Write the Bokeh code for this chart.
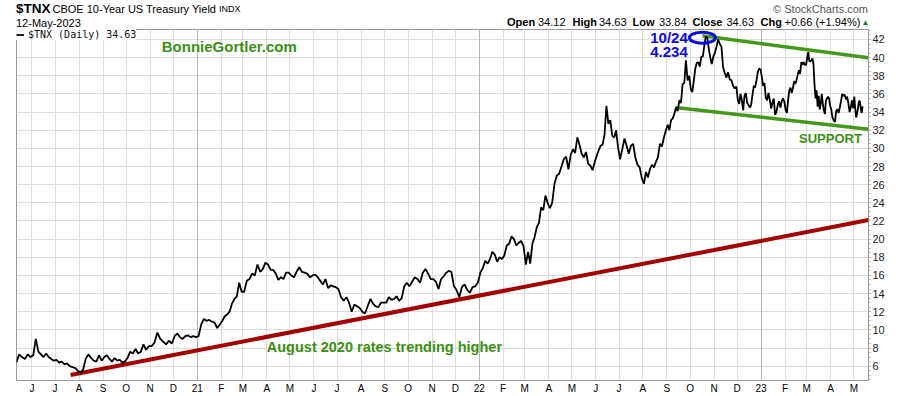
import numpy as np
import pandas as pd
from bokeh.plotting import figure
from bokeh.layouts import column
from bokeh.models import FixedTicker, Label, Grid, Range1d, Div
from bokeh.embed import file_html
from bokeh.resources import INLINE

# ---------------- data (10-Year yield x10) ----------------
y2020 = [
    [6.4, 7.3, 7.0, 6.8, 7.3, 7.0],                      # May (from 12th)
    [7.2, 9.0, 7.6, 7.3, 7.0, 7.4, 7.0, 6.8, 6.6],       # Jun
    [6.7, 6.4, 6.5, 6.2, 6.3, 6.0, 5.9, 5.8, 5.5],       # Jul
    [5.3, 5.6, 6.8, 7.3, 6.9, 6.6, 6.5, 7.2, 6.6],       # Aug
    [7.0, 7.2, 6.8, 6.5, 6.9, 6.6, 6.7, 6.4, 6.5],       # Sep
    [6.9, 7.6, 7.4, 7.9, 7.4, 7.6, 8.4, 7.8, 8.2],       # Oct
    [8.2, 8.6, 9.7, 9.0, 8.7, 8.4, 8.8, 8.5],            # Nov
    [9.3, 9.6, 9.2, 9.0, 9.3, 9.4, 9.2, 9.3, 9.2],       # Dec
]
y2021 = [
    [9.3, 10.6, 11.2, 11.0, 11.1, 10.9, 10.8, 10.2, 10.6],
    [11.0, 11.5, 11.7, 12.0, 12.9, 13.4, 13.7, 15.2, 14.2],
    [14.2, 15.4, 15.6, 16.2, 16.0, 17.2, 16.4, 16.7, 17.4],
    [17.2, 16.6, 16.6, 16.2, 15.5, 15.8, 15.6, 16.3, 16.3],
    [16.0, 15.8, 16.4, 16.9, 16.4, 16.3, 16.2, 15.8, 16.0],
    [16.1, 15.8, 15.4, 15.0, 15.6, 14.6, 14.9, 14.8, 14.7],
    [14.5, 13.6, 13.2, 13.6, 13.0, 12.0, 12.8, 12.6, 12.4],
    [12.0, 11.8, 12.6, 13.4, 12.9, 12.6, 12.5, 13.0, 13.0],
    [13.0, 13.6, 13.3, 13.4, 13.7, 13.2, 13.5, 14.8, 15.2],
    [14.8, 15.3, 15.8, 15.6, 15.2, 16.3, 16.7, 16.2, 15.6],
    [15.6, 15.3, 14.5, 15.6, 15.9, 16.3, 16.5, 16.4, 14.8],
    [14.4, 13.6, 14.7, 15.0, 14.4, 14.1, 14.7, 14.8, 15.2],
]
y2022 = [
    [16.3, 16.8, 17.6, 17.3, 17.8, 18.6, 18.3, 17.5, 18.0, 17.8],
    [18.2, 19.3, 19.5, 20.3, 20.0, 19.3, 19.6, 19.8, 19.2],
    [17.2, 18.6, 17.3, 19.5, 20.2, 21.3, 21.8, 23.5, 23.2, 24.8, 24.0],
    [23.4, 24.0, 26.1, 27.0, 27.2, 28.0, 28.8, 29.1, 27.7, 29.3],
    [29.9, 29.5, 31.2, 30.4, 29.4, 29.0, 29.6, 28.3, 28.1, 27.6, 28.5],
    [29.2, 29.8, 30.3, 30.4, 31.5, 34.7, 32.7, 33.1, 31.4, 31.2, 32.0, 30.1],
    [28.8, 29.9, 31.1, 30.3, 29.4, 30.3, 30.5, 29.0, 28.2, 27.9, 26.7],
    [26.1, 27.4, 26.8, 27.7, 28.2, 27.9, 28.5, 29.0, 30.5, 30.2, 31.2, 32.0],
    [32.6, 32.0, 33.1, 33.3, 33.8, 34.5, 34.1, 35.3, 35.0, 37.1, 37.2, 39.7, 37.5, 38.0],
    [36.5, 36.2, 37.5, 38.8, 39.4, 39.5, 39.0, 40.1, 40.1, 41.3, 42.3, 42.2, 41.0, 40.0, 39.3, 40.1],
    [40.5, 41.2, 42.0, 41.5, 41.2, 38.9, 38.3, 37.8, 38.4, 37.6, 37.5, 36.9, 36.6, 36.8],
    [35.3, 34.9, 36.0, 35.3, 34.2, 35.8, 36.1, 35.0, 34.8, 34.5, 34.8, 35.9, 36.9, 36.7, 37.5, 38.4, 38.8, 38.7],
]
y2023 = [
    [37.9, 36.9, 37.2, 35.6, 35.3, 36.1, 35.4, 34.4, 35.0, 35.5, 33.7, 34.0, 34.8, 35.2, 34.5, 35.2, 35.5, 35.1],
    [34.2, 33.9, 35.3, 36.4, 36.7, 36.1, 36.6, 37.4, 37.1, 37.5, 38.1, 38.6, 38.2, 39.5, 39.2, 39.5, 39.2, 39.2],
    [40.0, 40.6, 39.6, 39.6, 39.7, 39.9, 39.3, 37.0, 35.5, 36.4, 34.6, 35.8, 34.3, 34.9, 36.0, 34.9, 34.2, 33.8,
     35.3, 35.5, 35.7, 35.5, 34.7],
    [34.3, 33.4, 33.1, 32.9, 34.1, 34.3, 33.9, 34.5, 35.2, 36.0, 35.8, 35.9, 35.4, 35.7, 35.0, 34.0, 34.5, 35.3, 34.4],
    [35.7, 34.4, 33.4, 33.8, 34.4, 35.2, 35.2, 34.4, 33.9, 34.63],
]

# trend lines drawn on the chart
red_dates = ["2020-07-21", "2023-05-20"]
red_vals = [5.03, 22.1]
upper_dates = ["2022-10-17", "2023-05-20"]
upper_vals = [42.4, 39.98]
lower_dates = ["2022-09-12", "2023-05-20"]
lower_vals = [34.5, 32.12]

month_letters = ["J", "F", "M", "A", "M", "J", "J", "A", "S", "O", "N", "D"]
year_labels = ["21", "22", "23"]
y_ticks = list(range(6, 43, 2))

# header texts
quote_fields = [("Open", "34.12"), ("High", "34.63"), ("Low", "33.84"), ("Close", "34.63"),
                ("Chg", "+0.66 (+1.94%)")]

# ---------------- build date series ----------------
dates, vals = [], []


def add(year, first_month, month_lists, first_start_day=1, last_end_day=None):
    for k, mv in enumerate(month_lists):
        m = first_month + k
        start = pd.Timestamp(year, m, first_start_day if k == 0 else 1)
        if last_end_day is not None and k == len(month_lists) - 1:
            stop = pd.Timestamp(year, m, last_end_day)
        else:
            stop = pd.Timestamp(year, m, 1) + pd.offsets.MonthBegin(1)
        step = (stop - start) / len(mv)
        for i, v in enumerate(mv):
            dates.append(start + step * (i + 0.5))
            vals.append(v)


add(2020, 5, y2020, first_start_day=10)
add(2021, 1, y2021)
add(2022, 1, y2022)
add(2023, 1, y2023, last_end_day=13)


def ms(d):
    return pd.Timestamp(d).value / 1e6


FONT = "Liberation Sans"
GREEN = "#3b8f12"
GREEN_LINE = "#45981c"
RED = "#a30000"
BLUE = "#0a0ae6"
HEADER_H = 28
Y0, Y1 = 4.42, 43.1

# ---------------- header (HTML text) ----------------
quote_x = [507, 538, 572.5, 599, 632.5, 659, 692.5, 726.5, 760.5, 784.5]
spans = []


def span(left, top, size, text, bold=False, color="#000", right=None):
    pos = f"left:{left}px;" if right is None else f"right:{right}px;"
    spans.append(f'<span style="position:absolute;{pos}top:{top}px;font-size:{size}px;'
                 f'line-height:1;white-space:nowrap;font-weight:{"bold" if bold else "normal"};'
                 f'color:{color}">{text}</span>')


span(16, 2, 13.5, "$TNX", bold=True)
span(52.5, 3.7, 11, "CBOE 10-Year US Treasury Yield")
span(219, 5.2, 9, "INDX")
span(16, 17.7, 11, "12-May-2023")
span(0, 3.7, 11, "&copy; StockCharts.com", color="#555", right=32)
k = 0
for lab, num in quote_fields:
    span(quote_x[k], 17.2, 11, lab, bold=True)
    span(quote_x[k + 1], 17.2, 11, num)
    k += 2
span(861.5, 18.5, 8, "&#9650;", color="#2e7d32")
header = Div(text=f'<div style="position:relative;width:900px;height:{HEADER_H}px;'
                  f'font-family:\'Liberation Sans\';">' + "".join(spans) + "</div>",
             width=900, height=HEADER_H, margin=0)

# ---------------- chart ----------------
p = figure(width=900, height=396 - HEADER_H, output_backend="svg", toolbar_location=None,
           x_axis_type="datetime", y_axis_location="right",
           x_range=Range1d(ms("2020-05-12"), ms("2023-05-20")),
           y_range=Range1d(Y0, Y1), margin=0)
p.min_border_left = 16
p.min_border_right = 32
p.min_border_top = 1
p.min_border_bottom = 16
p.outline_line_color = "#9a9a9a"
p.background_fill_color = "white"
p.border_fill_color = "white"

# x axis: month letters, two-digit year at January
month_starts = pd.date_range("2020-06-01", "2023-05-01", freq="MS")
month_ms = [ms(d) for d in month_starts]
overrides = {}
yi = 0
for d, t in zip(month_starts, month_ms):
    if d.month == 1:
        overrides[t] = year_labels[yi]
        yi += 1
    else:
        overrides[t] = month_letters[d.month - 1]
xa = p.xaxis[0]
xa.ticker = FixedTicker(ticks=month_ms)
xa.major_label_overrides = overrides
xa.axis_line_color = None
xa.major_tick_line_color = None
xa.minor_tick_line_color = None
xa.major_tick_out = 0
xa.major_tick_in = 0
xa.minor_tick_out = 0
xa.minor_tick_in = 0
xa.major_label_standoff = 2
xa.major_label_text_font = FONT
xa.major_label_text_font_size = "10px"
xa.major_label_text_color = "black"

ya = p.yaxis[0]
ya.ticker = FixedTicker(ticks=y_ticks, minor_ticks=list(np.arange(4.5, 43.1, 0.5)))
ya.axis_line_color = None
ya.major_tick_in = 0
ya.major_tick_out = 2
ya.minor_tick_in = 0
ya.minor_tick_out = 2
ya.major_tick_line_color = "#888888"
ya.minor_tick_line_color = "#aaaaaa"
ya.major_label_standoff = 2
ya.major_label_text_font = FONT
ya.major_label_text_font_size = "11px"
ya.major_label_text_color = "#222222"

p.xgrid.grid_line_color = "#dcdcdc"
p.ygrid.grid_line_color = "#dcdcdc"
year_ms = [ms(f"20{y}-01-01") for y in year_labels]
p.add_layout(Grid(dimension=0, ticker=FixedTicker(ticks=year_ms), grid_line_color="#b5b5b5"))

# trend lines
p.line(pd.to_datetime(red_dates), red_vals, line_color=RED, line_width=4)
p.line(pd.to_datetime(upper_dates), upper_vals, line_color=GREEN_LINE, line_width=3.5)
p.line(pd.to_datetime(lower_dates), lower_vals, line_color=GREEN_LINE, line_width=3.5)

# price line
p.line(dates, vals, line_color="black", line_width=1.8, legend_label="$TNX (Daily) 34.63")

lg = p.legend[0]
lg.location = "top_left"
lg.margin = 0
lg.padding = 2
lg.spacing = 0
lg.border_line_color = None
lg.background_fill_color = "white"
lg.background_fill_alpha = 1
lg.label_text_font = "DejaVu Sans Mono"
lg.label_text_font_size = "10px"
lg.label_text_color = "#111111"
lg.label_standoff = 4
lg.glyph_width = 8
lg.glyph_height = 9
lg.label_height = 9

# highlight ellipse at the October high
ell_x = [ms("2022-10-17")]
ell_y = [42.2]
p.ellipse(ell_x, ell_y, width=26, height=11, width_units="screen", height_units="screen",
          fill_color=None, line_color=BLUE, line_width=3)


# in-chart annotations
def dlabel(x, y, text, color, size, align="left"):
    p.add_layout(Label(x=ms(x), y=y, text=text, text_align=align, text_baseline="middle",
                       text_font=FONT, text_font_size=size, text_font_style="bold",
                       text_color=color))


dlabel("2020-11-16", 41.2, "BonnieGortler.com", GREEN, "15px")
dlabel("2021-04-01", 8.15, "August 2020 rates trending higher", GREEN, "14.5px")
dlabel("2023-02-19", 31.1, "SUPPORT", GREEN, "13px")
dlabel("2022-09-28", 42.2, "10/24", BLUE, "15px", align="right")
dlabel("2022-09-28", 40.6, "4.234", BLUE, "15px", align="right")

layout = column(header, p, spacing=0, margin=0)
open("out.html", "w").write(file_html(layout, INLINE))
